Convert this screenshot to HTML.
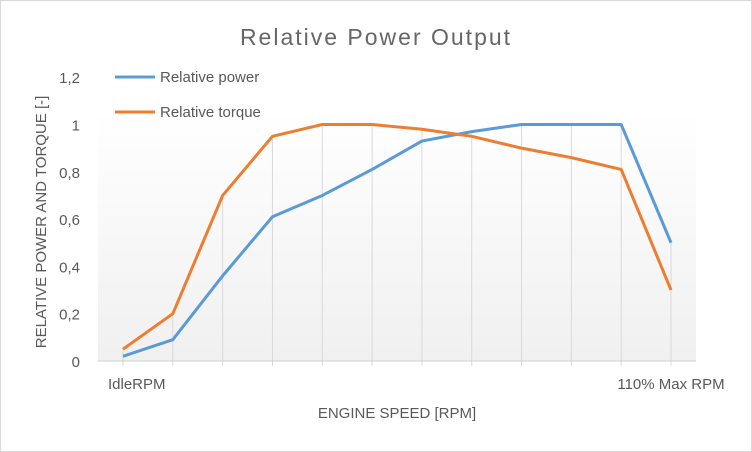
<!DOCTYPE html>
<html><head><meta charset="utf-8"><style>
body{margin:0;background:#fff}
svg{display:block;font-family:"Liberation Sans",sans-serif}
</style></head><body>
<svg width="752" height="452">
<defs><linearGradient id="g" x1="0" y1="0" x2="0" y2="1"><stop offset="0" stop-color="#ffffff"/><stop offset="1" stop-color="#f0f0f0"/></linearGradient></defs>
<rect x="0.5" y="0.5" width="751" height="451" fill="#fff" stroke="#d9d9d9"/>
<text x="376" y="45" text-anchor="middle" font-size="23" letter-spacing="2" fill="#666">Relative Power Output</text>
<rect x="98" y="110" width="598" height="251" fill="url(#g)"/>
<g id="grid"></g><g id="yt"></g><g id="lines"></g>
<line x1="98" y1="361" x2="696" y2="361" stroke="#d0d0d0"/>
<text x="108" y="389" font-size="15" fill="#595959">IdleRPM</text>
<text x="671" y="389" text-anchor="middle" font-size="15" fill="#595959">110% Max RPM</text>
<text x="397" y="418" text-anchor="middle" font-size="15" fill="#595959">ENGINE SPEED [RPM]</text>
<text transform="translate(46,222) rotate(-90)" text-anchor="middle" font-size="15" fill="#595959">RELATIVE POWER AND TORQUE [-]</text>
<g>
<line x1="115" y1="77" x2="155" y2="77" stroke="#5b9bd5" stroke-width="3"/>
<text x="160" y="82" font-size="15" fill="#595959">Relative power</text>
<line x1="115" y1="112" x2="155" y2="112" stroke="#ed7d31" stroke-width="3"/>
<text x="160" y="117" font-size="15" fill="#595959">Relative torque</text>
</g>
</svg>
<script>
const categories=["IdleRPM","","","","","","","","","","","110% Max RPM"];
const power=[0.02,0.09,0.36,0.61,0.70,0.81,0.93,0.97,1.0,1.0,1.0,0.5];
const torque=[0.05,0.2,0.7,0.95,1.0,1.0,0.98,0.95,0.9,0.86,0.81,0.3];
const yTicks=["0","0,2","0,4","0,6","0,8","1","1,2"];
const NS="http://www.w3.org/2000/svg";
const X=i=>123+i*49.82, Y=v=>361-v*236.5;
const mk=(t,a,p)=>{const e=document.createElementNS(NS,t);for(const k in a)e.setAttribute(k,a[k]);p.appendChild(e);return e;};
const grid=document.getElementById('grid'),yt=document.getElementById('yt'),lines=document.getElementById('lines');
categories.forEach((c,i)=>{
 const l=mk('line',{x1:X(i),x2:X(i),y1:Y(Math.max(power[i],torque[i])),y2:366,stroke:'#d9d9d9'},grid);
 
 
});
yTicks.forEach((t,i)=>{
 const e=mk('text',{x:80,y:Y(i*0.2)+6,'text-anchor':'end','font-size':15,fill:'#595959'},yt);e.textContent=t;
 
 
});
[[power,'#5b9bd5','power-line'],[torque,'#ed7d31','torque-line']].forEach(([d,c,n])=>{
 const p=mk('polyline',{points:d.map((v,i)=>X(i)+','+Y(v)).join(' '),fill:'none',stroke:c,'stroke-width':3,'stroke-linejoin':'round'},lines);
 
 
});
</script>
</body></html>
